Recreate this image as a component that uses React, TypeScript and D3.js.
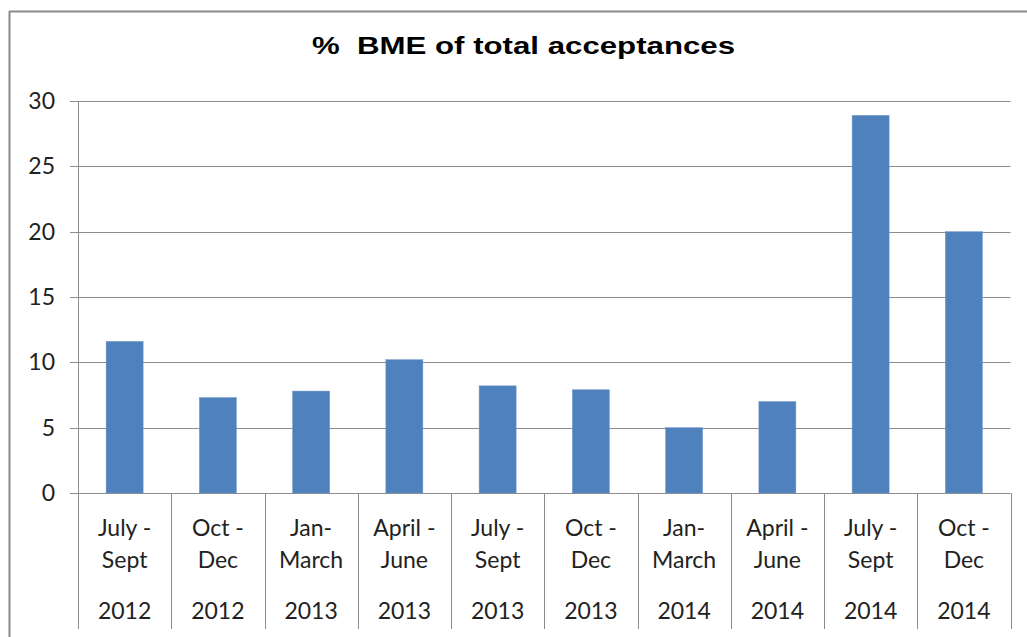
import React from "react";
import * as d3 from "d3";

const periods = ["July -|Sept", "Oct -|Dec", "Jan-|March", "April -|June", "July -|Sept", "Oct -|Dec", "Jan-|March", "April -|June", "July -|Sept", "Oct -|Dec"];
const years = ["2012", "2012", "2013", "2013", "2013", "2013", "2014", "2014", "2014", "2014"];
const values = [11.6, 7.3, 7.8, 10.2, 8.2, 7.9, 5.0, 7.0, 28.9, 20.0];
const yTicks = [0, 5, 10, 15, 20, 25, 30];
const title = "%  BME of total acceptances";

export default function App() {
  const W = 1027, H = 637;
  const left = 78, right = 1010.5, top = 101, bottom = 493;
  const keys = values.map((_, i) => String(i));
  const x = d3.scaleBand<string>().domain(keys).range([left, right]).paddingInner(0).paddingOuter(0);
  const y = d3.scaleLinear().domain([0, 30]).range([bottom, top]);
  const bw = 37;
  const grid = "#8c8c8c";
  const font = "'Liberation Sans', Arial, sans-serif";
  const labelFont = "Lato, 'Open Sans', sans-serif";
  const fs = 23;
  return (
    <svg width={W} height={H} style={{ position: "fixed", left: 0, top: 0, background: "#fff" }}>
      <rect x={0} y={0} width={W} height={H} fill="#fff" />
      <line x1={9.5} y1={11} x2={9.5} y2={H} stroke="#8a8a8a" strokeWidth={2} />
      <line x1={9} y1={11.5} x2={W} y2={11.5} stroke="#8a8a8a" strokeWidth={2} />
      <text x={312} y={54} fontFamily={font} fontWeight="bold" fontSize={24} fill="#000"
        style={{ whiteSpace: "pre" }} textLength={423} lengthAdjust="spacingAndGlyphs">{title}</text>
      {yTicks.map((t) => (
        <g key={t}>
          <line x1={70} x2={right} y1={Math.round(y(t)) + 0.5} y2={Math.round(y(t)) + 0.5} stroke={grid} strokeWidth={1} />
          <text x={55} y={y(t) + 8} textAnchor="end" fontFamily={labelFont} fontSize={fs} fill="#222">{t}</text>
        </g>
      ))}
      <line x1={left + 0.5} x2={left + 0.5} y1={top} y2={629} stroke={grid} strokeWidth={1} />
      {keys.map((k, i) => {
        const x0 = x(k)!;
        const cx = x0 + x.bandwidth() / 2;
        const [l1, l2] = periods[i].split("|");
        return (
          <g key={k}>
            <rect x={cx - bw / 2} y={y(values[i])} width={bw} height={bottom - y(values[i])} fill="#4F81BD" stroke="#6d94c7" strokeWidth={0.5} />
            <line x1={Math.round(x0 + x.bandwidth()) + 0.5} x2={Math.round(x0 + x.bandwidth()) + 0.5} y1={bottom} y2={629} stroke={grid} strokeWidth={1} />
            <text x={cx} y={536} textAnchor="middle" fontFamily={labelFont} fontSize={fs} fill="#222">{l1}</text>
            <text x={cx} y={568} textAnchor="middle" fontFamily={labelFont} fontSize={fs} fill="#222">{l2}</text>
            <text x={cx} y={619} textAnchor="middle" fontFamily={labelFont} fontSize={fs} fill="#222">{years[i]}</text>
          </g>
        );
      })}
    </svg>
  );
}
